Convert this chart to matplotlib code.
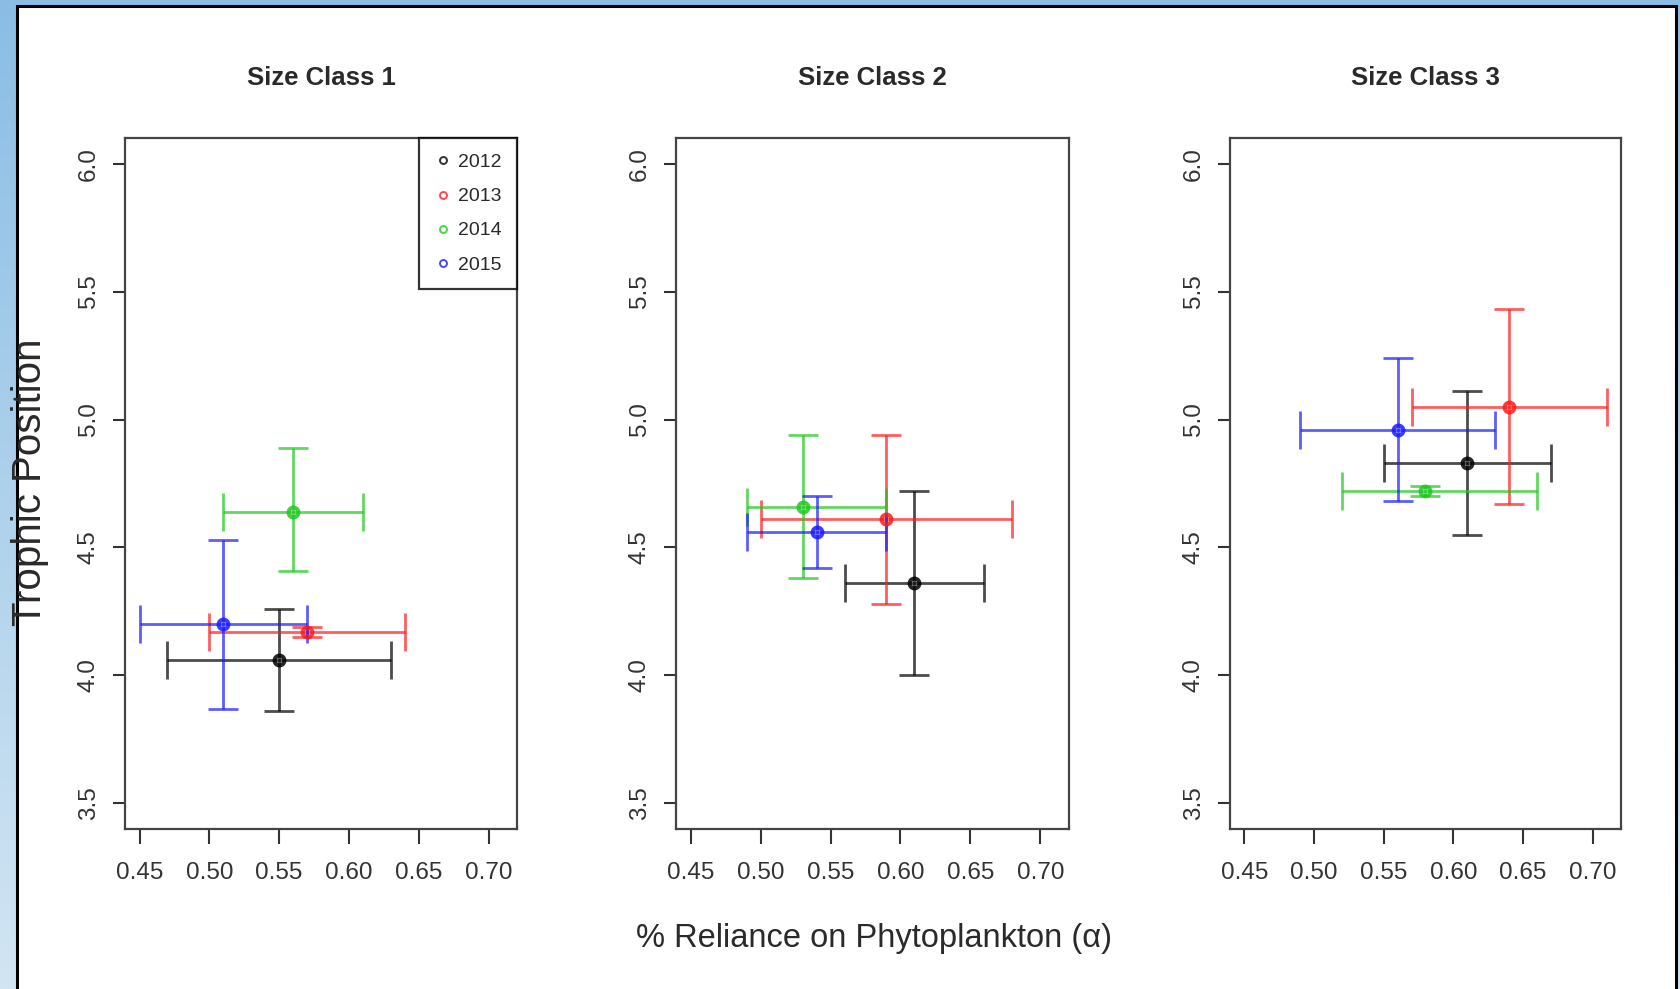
"""Trophic position vs reliance on phytoplankton, by size class and year."""
import numpy as np
import matplotlib
matplotlib.use("Agg")
import matplotlib.pyplot as plt
from matplotlib.patches import Rectangle

W, H = 1681, 989

YEARS = ["2012", "2013", "2014", "2015"]
COLORS = ["black", "#ff1a1a", "#1ec81e", "#1a1aff"]
PANELS = ["Size Class 1", "Size Class 2", "Size Class 3"]

# alpha (x) mean, lo, hi ; trophic position (y) mean, lo, hi -- per panel, per year
alpha_mean = [[0.55, 0.57, 0.56, 0.51],
              [0.61, 0.59, 0.53, 0.54],
              [0.61, 0.64, 0.58, 0.56]]
alpha_lo = [[0.47, 0.50, 0.51, 0.45],
            [0.56, 0.50, 0.49, 0.49],
            [0.55, 0.57, 0.52, 0.49]]
alpha_hi = [[0.63, 0.64, 0.61, 0.57],
            [0.66, 0.68, 0.59, 0.59],
            [0.67, 0.71, 0.66, 0.63]]
tp_mean = [[4.06, 4.17, 4.64, 4.20],
           [4.36, 4.61, 4.66, 4.56],
           [4.83, 5.05, 4.72, 4.96]]
tp_lo = [[3.86, 4.15, 4.41, 3.87],
         [4.00, 4.28, 4.38, 4.42],
         [4.55, 4.67, 4.70, 4.68]]
tp_hi = [[4.26, 4.19, 4.89, 4.53],
         [4.72, 4.94, 4.94, 4.70],
         [5.11, 5.43, 4.74, 5.24]]

x_ticks = [0.45, 0.50, 0.55, 0.60, 0.65, 0.70]
y_ticks = [3.5, 4.0, 4.5, 5.0, 5.5, 6.0]

plt.rcParams["font.family"] = ["Liberation Sans", "DejaVu Sans"]
TXT = "#2a2a2a"

fig = plt.figure(figsize=(W / 100, H / 100), dpi=100)

# blue gradient backdrop + white card
bg = fig.add_axes([0, 0, 1, 1])
grad = np.linspace(0, 1, 256)[:, None]
cmap = matplotlib.colors.LinearSegmentedColormap.from_list("bg", ["#8bbde4", "#d2e5f3"])
bg.imshow(grad, aspect="auto", cmap=cmap, extent=[0, 1, 0, 1], origin="upper")
bg.add_patch(Rectangle((17 / W, -0.01), (1676 - 17) / W, 1.01 - 6 / H,
                       facecolor="white", edgecolor="black", lw=2.2,
                       transform=bg.transAxes))
bg.set_xlim(0, 1)
bg.set_ylim(0, 1)
bg.axis("off")

lefts = [125, 676, 1230]
rights = [517, 1069, 1621]
top, bottom = 138, 829

for p, name in enumerate(PANELS):
    ax = fig.add_axes([lefts[p] / W, (H - bottom) / H,
                       (rights[p] - lefts[p]) / W, (bottom - top) / H])
    for k, yr in enumerate(YEARS):
        x, y = alpha_mean[p][k], tp_mean[p][k]
        xerr = [[x - alpha_lo[p][k]], [alpha_hi[p][k] - x]]
        yerr = [[y - tp_lo[p][k]], [tp_hi[p][k] - y]]
        ax.errorbar([x], [y], xerr=xerr, fmt="none", ecolor=COLORS[k],
                    elinewidth=2.0, capsize=13.5, capthick=2.0, alpha=0.7)
        ax.errorbar([x], [y], yerr=yerr, fmt="none", ecolor=COLORS[k],
                    elinewidth=2.0, capsize=11, capthick=2.0, alpha=0.7)
        ax.plot([x], [y], "o", mfc="none", mec=COLORS[k], ms=7, mew=3.0,
                alpha=0.85, label=yr, zorder=5)
    ax.set_xlim(0.4396, 0.7204)
    ax.set_ylim(3.4, 6.1)
    ax.set_xticks(x_ticks)
    ax.set_xticklabels([f"{v:.2f}" for v in x_ticks], fontsize=17.5, color=TXT)
    ax.set_yticks(y_ticks)
    ax.set_yticklabels([f"{v:.1f}" for v in y_ticks], fontsize=17.5, color=TXT,
                       rotation=90, va="center")
    ax.tick_params(axis="x", length=11, width=1.5, pad=13, colors="#333333")
    ax.tick_params(axis="y", length=9, width=1.5, pad=9, colors="#333333")
    for s in ax.spines.values():
        s.set_color("#444444")
        s.set_linewidth(1.6)
    ax.set_title(name, fontweight="bold", fontsize=18.5, pad=38, color=TXT)
    if p == 0:
        leg = ax.legend(loc="upper right", frameon=True, fancybox=False,
                        borderaxespad=0, handletextpad=0.3, borderpad=0.8,
                        labelspacing=0.85, handlelength=0.9,
                        prop={"size": 14})
        leg.get_frame().set_edgecolor("black")
        leg.get_frame().set_linewidth(1.6)
        for t in leg.get_texts():
            t.set_color(TXT)
        for h in leg.legend_handles:
            h.set_markersize(5)
            h.set_markeredgewidth(1.4)
            h.set_alpha(0.8)

fig.text(30 / W, 1 - 482 / H, "Trophic Position", rotation=90, ha="center",
         va="center", fontsize=29, color=TXT)
fig.text(874 / W, 1 - 939 / H, "% Reliance on Phytoplankton (α)", ha="center",
         va="center", fontsize=23.5, color=TXT)

fig.savefig("out.png", dpi=100)
